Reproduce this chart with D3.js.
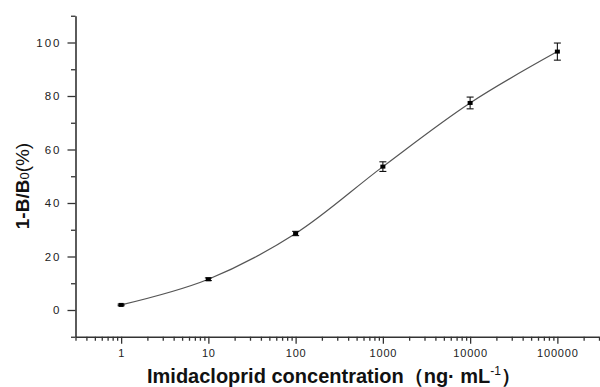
<!DOCTYPE html>
<html lang="en">
<head>
  <meta charset="UTF-8">
  <script src="https://d3js.org/d3.v7.min.js"></script>
  <title>Imidacloprid standard curve</title>
  <style>
    body { margin: 0; background: #fff; }
    text { font-family: Arial, "Liberation Sans", sans-serif; }
  </style>
</head>
<body>
  <script type="text/javascript">
    // data
    var concentration = [1, 10, 100, 1000, 10000, 100000];
    var inhibition = [1.9, 11.5, 28.6, 53.6, 77.4, 96.6];
    var errorSD = [0.3, 0.5, 0.8, 1.8, 2.2, 3.2];
    var xTickLabels = [1, 10, 100, 1000, 10000, 100000];
    var yTickLabels = [0, 20, 40, 60, 80, 100];
    var yMinorTicks = [-10, 10, 30, 50, 70, 90, 110];

    var dataset = [];
    for (var i = 0; i < concentration.length; i++) {
      dataset.push([concentration[i], inhibition[i], errorSD[i]]);
    }

    var outer_w = 600;
    var outer_h = 387;
    var margin = { left: 75.5, right: 599, top: 15.75, bottom: 336.75 };

    var svg = d3.select("body")
      .append("svg")
      .attr("width", outer_w)
      .attr("height", outer_h);

    var xScale = d3.scaleLog()
      .domain([0.3, 300000])
      .range([margin.left, margin.right]);
    var yScale = d3.scaleLinear()
      .domain([-10, 110])
      .range([margin.bottom, margin.top]);

    var axisColor = "#333";

    // x axis: majors with labels, minors from the log scale
    var xMinor = xScale.ticks().filter(function (d) { return xTickLabels.indexOf(d) < 0; });
    svg.append("g")
      .attr("transform", "translate(0," + margin.bottom + ")")
      .call(d3.axisBottom(xScale).tickValues(xMinor).tickSize(4).tickFormat(""))
      .call(function (g) { g.select(".domain").remove(); })
      .selectAll("line").attr("stroke", axisColor).attr("stroke-width", 1.3);
    var xg = svg.append("g")
      .attr("transform", "translate(0," + margin.bottom + ")")
      .call(d3.axisBottom(xScale).tickValues(xTickLabels).tickSize(7).tickSizeOuter(0)
        .tickFormat(function (d) { return String(d); }));
    xg.select(".domain").attr("stroke", axisColor).attr("stroke-width", 1.6);
    xg.selectAll(".tick line").attr("stroke", axisColor).attr("stroke-width", 1.3);
    xg.selectAll(".tick text")
      .attr("y", 12)
      .attr("font-size", 11)
      .attr("letter-spacing", 0.8)
      .attr("fill", "#222");

    // y axis
    svg.append("g")
      .attr("transform", "translate(" + margin.left + ",0)")
      .call(d3.axisLeft(yScale).tickValues(yMinorTicks).tickSize(4.5).tickFormat(""))
      .call(function (g) { g.select(".domain").remove(); })
      .selectAll("line").attr("stroke", axisColor).attr("stroke-width", 1.3);
    var yg = svg.append("g")
      .attr("transform", "translate(" + margin.left + ",0)")
      .call(d3.axisLeft(yScale).tickValues(yTickLabels).tickSize(8).tickSizeOuter(0));
    yg.select(".domain").attr("stroke", axisColor).attr("stroke-width", 1.6);
    yg.selectAll(".tick line").attr("stroke", axisColor).attr("stroke-width", 1.3);
    yg.selectAll(".tick text")
      .attr("x", -14)
      .attr("font-size", 11.5)
      .attr("letter-spacing", 2)
      .attr("fill", "#222");

    // fitted curve through the points
    var line = d3.line()
      .x(function (d) { return xScale(d[0]); })
      .y(function (d) { return yScale(d[1]); })
      .curve(d3.curveCatmullRom);
    svg.append("path")
      .datum(dataset)
      .attr("d", line)
      .attr("fill", "none")
      .attr("stroke", "#555")
      .attr("stroke-width", 1.2);

    // error bars
    var bars = svg.selectAll(".err")
      .data(dataset)
      .enter()
      .append("g")
      .attr("class", "err")
      .attr("stroke", "#111")
      .attr("stroke-width", 1.1);
    bars.append("line")
      .attr("x1", function (d) { return xScale(d[0]); })
      .attr("x2", function (d) { return xScale(d[0]); })
      .attr("y1", function (d) { return yScale(d[1] + d[2]); })
      .attr("y2", function (d) { return yScale(d[1] - d[2]); });
    bars.append("line")
      .attr("x1", function (d) { return xScale(d[0]) - 3.5; })
      .attr("x2", function (d) { return xScale(d[0]) + 3.5; })
      .attr("y1", function (d) { return yScale(d[1] + d[2]); })
      .attr("y2", function (d) { return yScale(d[1] + d[2]); });
    bars.append("line")
      .attr("x1", function (d) { return xScale(d[0]) - 3.5; })
      .attr("x2", function (d) { return xScale(d[0]) + 3.5; })
      .attr("y1", function (d) { return yScale(d[1] - d[2]); })
      .attr("y2", function (d) { return yScale(d[1] - d[2]); });

    // points
    svg.selectAll(".pt")
      .data(dataset)
      .enter()
      .append("rect")
      .attr("class", "pt")
      .attr("x", function (d) { return xScale(d[0]) - 2.5; })
      .attr("y", function (d) { return yScale(d[1]) - 2; })
      .attr("width", 5)
      .attr("height", 4)
      .attr("fill", "#000");

    // axis titles
    var xt = svg.append("text")
      .attr("x", 334)
      .attr("y", 383)
      .attr("text-anchor", "middle")
      .attr("font-size", 20)
      .attr("font-weight", "bold")
      .attr("fill", "#111");
    xt.append("tspan").text("Imidacloprid concentration\uFF08ng\u00B7 mL");
    xt.append("tspan").attr("dy", -8).attr("font-size", 12).attr("font-weight", "normal").text("-1");
    xt.append("tspan").attr("dy", 8).text("\uFF09");

    var yt = svg.append("text")
      .attr("transform", "translate(29,186) rotate(-90)")
      .attr("text-anchor", "middle")
      .attr("font-size", 19)
      .attr("font-weight", "bold")
      .attr("fill", "#111");
    yt.append("tspan").text("1-B/B");
    yt.append("tspan").attr("font-size", 13).attr("font-weight", "normal").text("0");
    yt.append("tspan").attr("font-weight", "normal").text("(%)");
  </script>
</body>
</html>
